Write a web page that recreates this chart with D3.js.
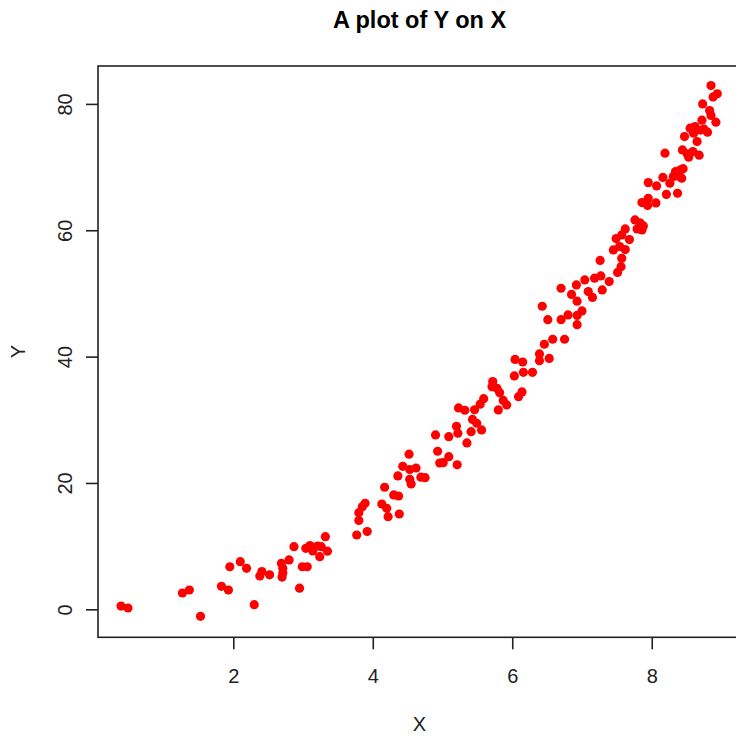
<!DOCTYPE html>
<html>
<head>
<meta charset="utf-8">
<script src="https://cdnjs.cloudflare.com/ajax/libs/d3/7.8.5/d3.min.js"></script>
<style>
  body { margin: 0; background: #fff; }
  svg { display: block; }
</style>
</head>
<body>
<script>
// x values
var xValues = [0.39, 0.49, 1.27, 1.37, 1.53, 1.83, 1.93, 1.95, 2.10, 2.19, 2.30, 2.38, 2.41, 2.52,
  2.69, 2.71, 2.71, 2.70, 2.80, 2.87, 2.95, 2.99, 3.06, 3.04, 3.10, 3.14, 3.21, 3.26, 3.24, 3.35, 3.32,
  3.77, 3.92, 3.80, 3.80, 3.89, 3.85, 4.13, 4.20, 4.22, 4.17, 4.30, 4.37, 4.38,
  4.36, 4.43, 4.52, 4.53, 4.62, 4.53, 4.55, 4.69, 4.75, 4.90, 4.93, 4.96, 5.01, 5.09, 5.21, 5.09, 5.20, 5.22, 5.35,
  5.23, 5.32, 5.46, 5.43, 5.54, 5.59, 5.49, 5.41, 5.56, 5.72, 5.71, 5.78, 5.82, 5.87, 5.92, 5.80, 6.09, 6.14,
  6.04, 6.15, 6.03, 6.16, 6.29, 6.39, 6.39, 6.53, 6.46, 6.58, 6.75, 6.43, 6.51, 6.70, 6.80, 6.93, 7.00, 6.93,
  6.70, 6.85, 6.92, 6.93, 7.04, 7.09, 7.15, 7.18, 7.27, 7.29, 7.39,
  7.26, 7.57, 7.56, 7.51, 7.45, 7.54, 7.62, 7.49, 7.57, 7.62, 7.68, 7.76, 7.83, 7.88, 7.79, 7.86,
  7.86, 7.95, 8.06, 7.94, 7.95, 8.07, 8.16, 8.21, 8.26, 8.37, 8.31, 8.36, 8.34, 8.41, 8.45, 8.43,
  8.19, 8.44, 8.51, 8.53, 8.59, 8.68, 8.47, 8.55, 8.60, 8.62, 8.65, 8.72, 8.75, 8.80, 8.70,
  8.73, 8.83, 8.85, 8.92, 8.85, 8.94, 8.88];
// y values, same order
var yValues = [0.52, 0.21, 2.58, 3.06, -1.11, 3.64, 3.06, 6.74, 7.54, 6.49, 0.73, 5.27, 5.98, 5.46,
  7.28, 6.49, 5.75, 5.11, 7.81, 9.91, 3.34, 6.74, 6.74, 9.66, 10.10, 9.23, 10.02, 9.91, 8.33, 9.20, 11.49,
  11.76, 12.32, 14.06, 15.29, 16.78, 16.24, 16.67, 15.99, 14.66, 19.32, 18.10, 17.94, 15.09,
  21.11, 22.64, 24.56, 22.13, 22.37, 20.58, 19.84, 20.92, 20.84, 27.60, 25.02, 23.16, 23.21, 24.16, 22.88, 27.33, 28.97, 27.87, 26.33,
  31.87, 31.51, 31.59, 30.05, 32.47, 33.34, 29.45, 28.12, 28.39, 36.04, 35.24, 34.99, 34.29, 33.06, 32.35, 31.56, 33.66, 34.41,
  39.55, 39.15, 36.94, 37.52, 37.52, 40.42, 39.36, 39.71, 41.96, 42.75, 42.75, 47.97, 45.85, 45.85, 46.60, 46.52, 47.23, 45.06,
  50.82, 49.84, 51.35, 48.78, 52.14, 50.29, 49.37, 52.41, 52.77, 50.55, 51.87,
  55.22, 55.57, 54.24, 53.33, 56.89, 57.41, 56.94, 58.68, 59.26, 60.21, 58.52, 61.64, 61.19, 60.69, 60.21, 60.05,
  64.38, 65.07, 64.33, 63.93, 67.54, 67.02, 68.37, 65.68, 67.45, 65.86, 68.49, 68.60, 69.28, 69.55, 69.74, 68.24,
  72.20, 72.72, 72.09, 71.56, 72.45, 71.88, 74.83, 76.16, 75.36, 76.41, 74.03, 77.42, 76.00, 75.52, 75.86,
  80.00, 78.94, 78.18, 77.11, 82.90, 81.59, 81.11];

// tick labels
var xTicks = [2, 4, 6, 8];
var yTicks = [0, 20, 40, 60, 80];

// axis limits (R adds 4% on each side)
var xDomain = [0.06, 9.28];
var yDomain = [-4.43, 86.0];

function drawScatter() {
  var w = 736;
  var h = 736;
  var left = 98, top = 66, right = 741, bottom = 637.3;
  var font = "'Liberation Sans', Arial, sans-serif";

  var points = xValues.map(function(d, i) { return [d, yValues[i]]; });

  var xScale = d3.scaleLinear().domain(xDomain).range([left, right]);
  var yScale = d3.scaleLinear().domain(yDomain).range([bottom, top]);

  var svg = d3.select("body")
              .append("svg")
              .attr("width", w)
              .attr("height", h);

  // points
  svg.append("g")
     .selectAll("circle")
     .data(points)
     .enter()
     .append("circle")
     .attr("cx", d => xScale(d[0]))
     .attr("cy", d => yScale(d[1]))
     .attr("r", 4.6)
     .attr("fill", "#ff0000");

  // box round the plot
  svg.append("rect")
     .attr("x", left)
     .attr("y", top)
     .attr("width", right - left)
     .attr("height", bottom - top)
     .attr("fill", "none")
     .attr("stroke", "#222")
     .attr("stroke-width", 1.6);

  // x axis
  var xAxis = d3.axisBottom(xScale).tickValues(xTicks).tickSize(12).tickFormat(d3.format("d"));
  var gx = svg.append("g")
     .attr("transform", "translate(0," + bottom + ")")
     .call(xAxis);
  gx.select(".domain").remove();
  gx.selectAll("line").attr("stroke", "#222").attr("stroke-width", 1.6);
  gx.selectAll("text")
     .attr("y", 32)
     .attr("fill", "#222")
     .style("font-family", font)
     .style("font-size", "20px");

  // y axis, labels turned like R does
  var yAxis = d3.axisLeft(yScale).tickValues(yTicks).tickSize(12).tickFormat(d3.format("d"));
  var gy = svg.append("g")
     .attr("transform", "translate(" + left + ",0)")
     .call(yAxis);
  gy.select(".domain").remove();
  gy.selectAll("line").attr("stroke", "#222").attr("stroke-width", 1.6);
  gy.selectAll("text")
     .attr("transform", "rotate(-90)")
     .attr("x", 0)
     .attr("y", -26)
     .attr("dy", 0)
     .attr("fill", "#222")
     .style("text-anchor", "middle")
     .style("font-family", font)
     .style("font-size", "20px");

  // title
  svg.append("text")
     .attr("x", (left + right) / 2)
     .attr("y", 28)
     .attr("text-anchor", "middle")
     .style("font-family", font)
     .style("font-size", "23.5px")
     .style("font-weight", "bold")
     .attr("fill", "#000")
     .text("A plot of Y on X");

  // axis titles
  svg.append("text")
     .attr("x", (left + right) / 2)
     .attr("y", 731)
     .attr("text-anchor", "middle")
     .style("font-family", font)
     .style("font-size", "20px")
     .attr("fill", "#222")
     .text("X");

  svg.append("text")
     .attr("transform", "translate(25," + ((top + bottom) / 2) + ") rotate(-90)")
     .attr("text-anchor", "middle")
     .style("font-family", font)
     .style("font-size", "20px")
     .attr("fill", "#222")
     .text("Y");
}

window.onload = function() {
  drawScatter();
};
</script>
</body>
</html>
